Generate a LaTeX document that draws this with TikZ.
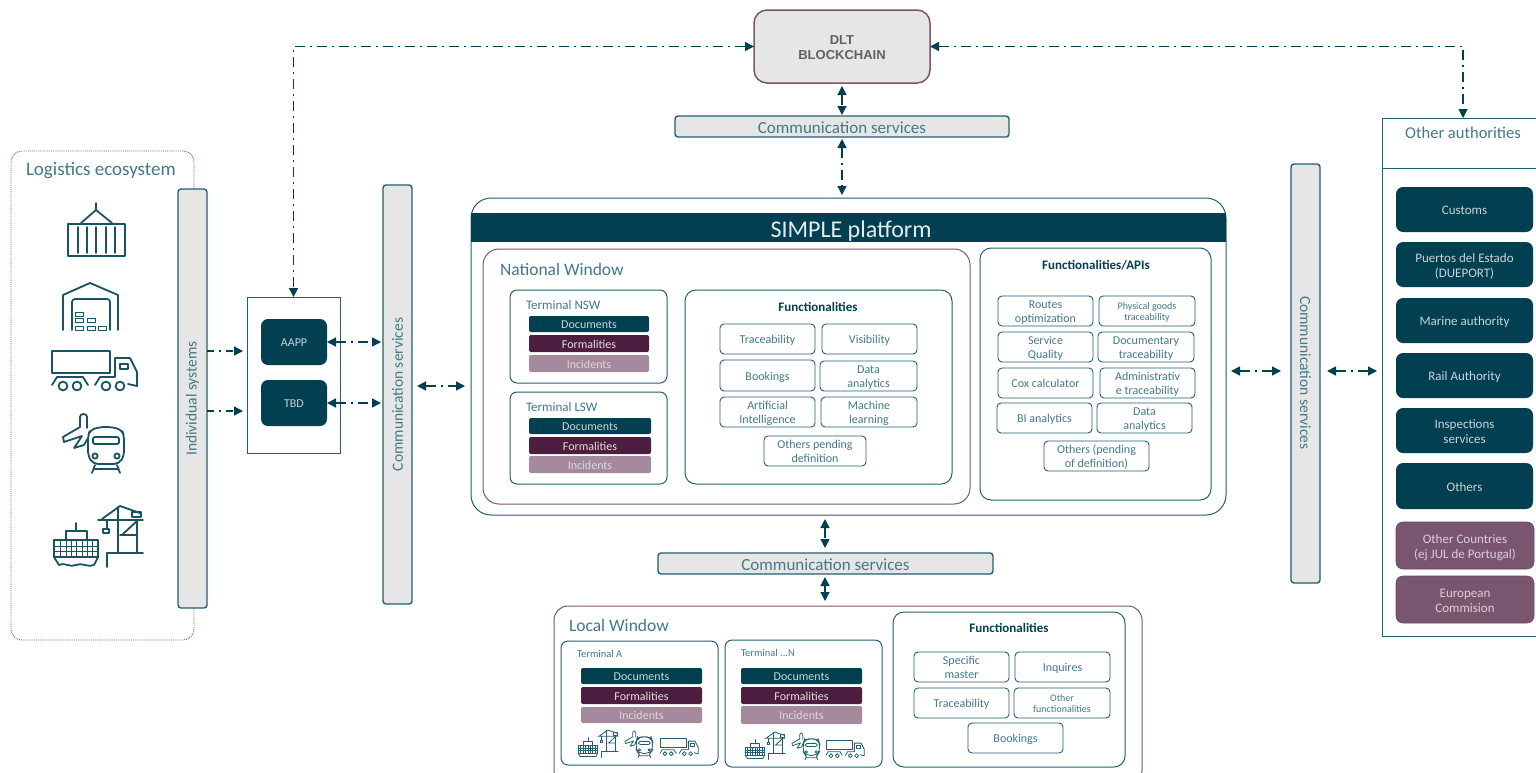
\documentclass[tikz,border=0pt]{standalone}
\usepackage{fontspec}
\setmainfont{Carlito}
\newfontfamily\dltfont{Liberation Sans}
\usetikzlibrary{arrows.meta}
\definecolor{tealdark}{HTML}{023F50}
\definecolor{tealline}{HTML}{22606F}
\definecolor{tealtext}{HTML}{437988}
\definecolor{plum}{HTML}{4E1E40}
\definecolor{mauve}{HTML}{A58A9E}
\definecolor{plumbox}{HTML}{7A5570}
\definecolor{plumline}{HTML}{7A5570}
\definecolor{greybar}{HTML}{E6E6E6}
\definecolor{onlight}{HTML}{C8D6DA}
\newcommand\fs[1]{\fontsize{#1}{\dimexpr #1pt*115/100\relax}\selectfont}
\newcommand\bx[7]{%
  \pgfmathsetmacro\bxcx{(#3+#5)/2}\pgfmathsetmacro\bxcy{(#4+#6)/2}%
  \pgfmathsetmacro\bxw{#5-#3}\pgfmathsetmacro\bxh{#6-#4}%
  \node[#2,minimum width=\bxw pt,minimum height=\bxh pt] (#1) at (\bxcx,\bxcy) {\raisebox{-.17em}[\height][\depth]{\begin{tabular}{@{}c@{}}#7\end{tabular}}};}
\newcommand\bxe[6]{%
  \pgfmathsetmacro\bxcx{(#3+#5)/2}\pgfmathsetmacro\bxcy{(#4+#6)/2}%
  \pgfmathsetmacro\bxw{#5-#3}\pgfmathsetmacro\bxh{#6-#4}%
  \node[#2,minimum width=\bxw pt,minimum height=\bxh pt] (#1) at (\bxcx,\bxcy) {};}
\tikzset{
  base/.style={inner sep=0pt,outer sep=0pt},
  frame/.style={base,draw=tealline,line width=1pt,rounded corners=11pt},
  plumframe/.style={frame,draw=plumline},
  fnbox/.style={base,draw=tealline,line width=.9pt,rounded corners=4pt,text=tealtext,font=\fs{12}},
  fnsmall/.style={fnbox,font=\fs{10}},
  bar/.style={base,draw=tealline,line width=1.4pt,fill=greybar,rounded corners=3pt,text=tealtext,font=\fs{17}},
  vbar/.style={bar,font=\fs{15.5}},
  docbar/.style={base,fill=tealdark,rounded corners=2pt,text=onlight,font=\fs{12}},
  forbar/.style={base,fill=plum,rounded corners=2pt,text=white!85!plum,font=\fs{12}},
  incbar/.style={base,fill=mauve,rounded corners=2pt,text=white!65!mauve,font=\fs{12}},
  auth/.style={base,fill=tealdark,rounded corners=7pt,text=onlight,font=\fs{13}},
  authp/.style={base,fill=plumbox,draw=plumbox!85!black,line width=.6pt,rounded corners=7pt,text=white!72!plumbox,font=\fs{13}},
  label/.style={base,anchor=west,text=tealtext},
  title/.style={base,text=tealdark,font=\fs{13}\bfseries},
  conn/.style={draw=tealdark,line width=1.4pt,dash pattern=on 10pt off 5pt on 2pt off 5pt,
     {Triangle[length=9pt,width=9pt]}-{Triangle[length=9pt,width=9pt]}},
  connf/.style={draw=tealdark,line width=1.4pt,dash pattern=on 7pt off 5pt on 2pt off 5pt,
     -{Triangle[length=9pt,width=9pt]}},
  icon/.style={draw=tealdark!90!white,line width=1.8pt,line join=round,line cap=round},
  iconmini/.style={draw=tealline,line width=.8pt,line join=round,line cap=round},
}
\newcommand\containericon[1]{%
  \draw[#1] (68,224) rectangle (125,256);
  \foreach \x in {78,87,96,106,115}{\draw[#1] (\x,227) -- (\x,253);}
  \draw[#1] (81,223) -- (96,210) -- (112,223) (96,210) -- (96,203);}
\newcommand\wareicon[1]{%
  \draw[#1] (63,330) -- (63,295) -- (90,283) -- (118,295) -- (118,330);
  \draw[#1] (72,330) -- (72,303) [rounded corners=3pt] -- (72,299) -- (110,299) [sharp corners] -- (110,330);
  \foreach \xa/\ya/\xb/\yb in {75/312/83/316,75/318/83/322,75/326/83/330,87/318/95/322,87/326/95/330,98/326/106/330}
    {\draw[#1,line width=1pt] (\xa,\ya) rectangle (\xb,\yb);}}
\newcommand\truckicon[1]{%
  \draw[#1] (52,351) rectangle (110,373);
  \draw[#1] (115,373) -- (115,358) -- (130,358) -- (137,372) -- (137,386) -- (128,384);
  \draw[#1] (120,364) rectangle (128,369);
  \draw[#1] (52,385) -- (57,377) -- (83,377) -- (88,385);
  \draw[#1] (95,385) -- (100,377) -- (115,377) -- (115,373);
  \foreach \x in {63,77,106,120}{\draw[#1] (\x,386) circle (4.4);}}
\newcommand\mobilityicon[1]{%
  \draw[#1] (80,427) -- (80,417) .. controls (80,413) and (87,413) .. (87,417) -- (87,428);
  \draw[#1] (80,427) -- (63,437) -- (64,442) -- (82,436) -- (74,448) -- (84,445) -- (88,438);
  \draw[#1,rounded corners=5pt] (100,427) -- (90,430) -- (88,436) -- (88,456) -- (93,464) -- (119,464) -- (124,456) -- (124,436) -- (122,430) -- (112,427) -- cycle;
  \draw[#1,rounded corners=2pt] (93,437) rectangle (119,444);
  \draw[#1] (95,456) circle (2.6) (117,456) circle (2.6);
  \draw[#1] (95,465) -- (92,473) (117,465) -- (120,473) (94,469) -- (118,469);}
\newcommand\porticon[1]{%
  \draw[#1] (54,540) rectangle (98,557);
  \draw[#1] (66,531) rectangle (87,540);
  \draw[#1] (76,523) -- (76,531);
  \foreach \x in {60,66,71,76,82,87,92}{\draw[#1,line width=.8pt] (\x,540) -- (\x,557);}
  \draw[#1,line width=.8pt] (54,546) -- (98,546) (54,551) -- (98,551);
  \draw[#1] (54,557) -- (59,565) .. controls (66,562) and (70,568) .. (76,565) .. controls (82,562) and (88,568) .. (94,565) -- (98,557);
  \draw[#1] (98,520) -- (143,520) (102,519) -- (120,506) -- (140,513);
  \draw[#1] (118,507) -- (118,552) (137,520) -- (137,552);
  \draw[#1] (132,512) rectangle (141,517);
  \draw[#1] (122,535) -- (138,520) (120,535) -- (137,535);
  \draw[#1] (107,520) -- (107,529);
  \draw[#1] (103,529) rectangle (109,533);
  \draw[#1] (107,567) -- (107,553) -- (143,553);}
\newcommand\miniset[6]{%
  \begin{scope}[shift={(#1,#2)},scale=.45]\porticon{iconmini}\end{scope}
  \begin{scope}[shift={(#3,#4)},scale=.45]\mobilityicon{iconmini}\end{scope}
  \begin{scope}[shift={(#5,#6)},scale=.45]\truckicon{iconmini}\end{scope}}
\begin{document}
\begin{tikzpicture}[x=1pt,y=-1pt]
\useasboundingbox (0,0) rectangle (1536,772);
\clip (0,0) rectangle (1536,772);
\fill[white] (0,0) rectangle (1536,772);

% Logistics ecosystem
\bxe{logi}{base,draw=plumline,line width=.9pt,densely dotted,rounded corners=11pt}{11}{151}{194}{640}
\node[label,font=\fs{19}] (logit) at (26,171) {Logistics ecosystem};
\containericon{icon}
\wareicon{icon}
\truckicon{icon}
\mobilityicon{icon}
\porticon{icon}
\bx{indiv}{vbar}{178}{189}{207}{608}{\rotatebox{90}{Individual systems}}

% AAPP
\bxe{appbox}{base,draw=tealline,line width=.9pt}{247}{297}{340}{453}
\bx{aapp}{auth,font=\fs{12}}{261}{319}{327}{365}{AAPP}
\bx{tbd}{auth,font=\fs{12}}{261}{380}{327}{426}{TBD}
\bx{commL}{vbar}{383}{185}{412}{604}{\rotatebox{90}{Communication services}}

% DLT
\bx{dlt}{base,draw=plumline,line width=1.5pt,fill=greybar,rounded corners=13pt,text=black!62,font=\fontsize{13}{15}\selectfont\dltfont\bfseries}{754}{10}{930}{83}{DLT\\BLOCKCHAIN}
\bx{commT}{bar}{675}{116}{1009}{137}{Communication services}

% SIMPLE
\bxe{simple}{frame,rounded corners=20pt}{471}{198}{1226}{515}
\bx{simplebar}{base,fill=tealdark,text=white!90!tealdark,font=\fs{24}}{471}{213}{1226}{242}{\hspace*{5pt}SIMPLE platform}
\bxe{national}{plumframe,rounded corners=16pt}{483}{249}{970}{504}
\node[label,font=\fs{17.5}] (nationalt) at (500,269) {National Window};

\bxe{nsw}{frame,rounded corners=7pt}{510}{290}{667}{383}
\node[label,font=\fs{13}] (nswt) at (526,305) {Terminal NSW};
\bx{nswd}{docbar}{529}{316}{649}{332}{Documents}
\bx{nswf}{forbar}{529}{335}{649}{352}{Formalities}
\bx{nswi}{incbar}{529}{355}{649}{372}{Incidents}
\bxe{lsw}{frame,rounded corners=7pt}{510}{392}{667}{484}
\node[label,font=\fs{13}] (lswt) at (526,407) {Terminal LSW};
\bx{lswd}{docbar}{529}{418}{651}{434}{Documents}
\bx{lswf}{forbar}{529}{437}{651}{454}{Formalities}
\bx{lswi}{incbar}{529}{456}{651}{473}{Incidents}

\bxe{fn}{frame}{685}{290}{952}{484}
\node[title] (fnt) at (818,307) {Functionalities};
\bx{f1}{fnbox}{720}{324}{815}{354}{Traceability}
\bx{f2}{fnbox}{822}{324}{917}{354}{Visibility}
\bx{f3}{fnbox}{720}{360}{815}{391}{Bookings}
\bx{f4}{fnbox}{820}{361}{917}{391}{Data\\analytics}
\bx{f5}{fnbox}{720}{397}{815}{427}{Artificial\\Intelligence}
\bx{f6}{fnbox}{821}{397}{917}{427}{Machine\\learning}
\bx{f7}{fnbox}{764}{436}{866}{466}{Others pending\\definition}

\bxe{api}{frame}{980}{248}{1211}{500}
\node[title] (apit) at (1096,265) {Functionalities/APIs};
\bx{a1}{fnbox}{998}{296}{1093}{326}{Routes\\optimization}
\bx{a2}{fnsmall}{1099}{296}{1195}{326}{Physical goods\\traceability}
\bx{a3}{fnbox}{998}{332}{1093}{362}{Service\\Quality}
\bx{a4}{fnbox}{1098}{332}{1194}{362}{Documentary\\traceability}
\bx{a5}{fnbox}{998}{368}{1093}{398}{Cox calculator}
\bx{a6}{fnbox}{1100}{368}{1195}{398}{Administrativ\\e traceability}
\bx{a7}{fnbox}{997}{403}{1092}{433}{BI analytics}
\bx{a8}{fnbox}{1097}{403}{1192}{433}{Data\\analytics}
\bx{a9}{fnbox}{1044}{441}{1149}{471}{Others (pending\\of definition)}

\bx{commR}{vbar}{1291}{164}{1320}{583}{\raisebox{9.6pt}[\height][\depth]{\rotatebox{-90}{Communication services}}}

% Other authorities
\bxe{oa}{base,draw=tealline,line width=.9pt}{1382}{118}{1544}{636}
\draw[draw=tealline,line width=.9pt] (oa.west |- 0,168) -- (oa.east |- 0,168);
\node[base,text=tealtext,font=\fs{16.5}] (oat) at (1463,133) {Other authorities};
\bx{o1}{auth}{1396}{187}{1533}{232}{Customs}
\bx{o2}{auth}{1396}{242}{1533}{287}{Puertos del Estado\\(DUEPORT)}
\bx{o3}{auth}{1396}{298}{1533}{343}{Marine authority}
\bx{o4}{auth}{1396}{353}{1533}{398}{Rail Authority}
\bx{o5}{auth}{1396}{408}{1533}{453}{Inspections\\services}
\bx{o6}{auth}{1396}{463}{1533}{509}{Others}
\bx{o7}{authp}{1396}{522}{1534}{569}{Other Countries\\(ej JUL de Portugal)}
\bx{o8}{authp}{1396}{576}{1534}{623}{European\\Commision}

% Bottom
\bx{commB}{bar}{658}{553}{993}{574}{Communication services}
\bxe{local}{plumframe,rounded corners=14pt}{554}{606}{1142}{784}
\node[label,font=\fs{17.5}] (localt) at (569,625) {Local Window};
\bxe{ta}{frame,rounded corners=7pt}{561}{641}{718}{765}
\node[label,font=\fs{10.5}] (tat) at (577,654) {Terminal A};
\bx{tad}{docbar}{581}{668}{702}{684}{Documents}
\bx{taf}{forbar}{581}{687}{702}{704}{Formalities}
\bx{tai}{incbar}{581}{707}{702}{723}{Incidents}
\miniset{553.7}{502.3}{596.65}{544.7}{636.6}{580}
\bxe{tn}{frame,rounded corners=7pt}{725}{640}{882}{767}
\node[label,font=\fs{10.5}] (tnt) at (741,653) {Terminal ...N};
\bx{tnd}{docbar}{741}{668}{862}{684}{Documents}
\bx{tnf}{forbar}{741}{687}{862}{704}{Formalities}
\bx{tni}{incbar}{741}{706}{862}{724}{Incidents}
\miniset{720.7}{504.3}{763.65}{546.7}{802.6}{582}
\bxe{lf}{frame}{893}{612}{1125}{767}
\node[title] (lft) at (1009,628) {Functionalities};
\bx{l1}{fnbox}{914}{652}{1009}{682}{Specific\\master}
\bx{l2}{fnbox}{1015}{652}{1110}{682}{Inquires}
\bx{l3}{fnbox}{914}{688}{1009}{718}{Traceability}
\bx{l4}{fnsmall}{1014}{688}{1110}{718}{Other\\functionalities}
\bx{l5}{fnbox}{968}{723}{1063}{753}{Bookings}

% Connectors
\coordinate (yi1) at (0,351);
\coordinate (yi2) at (0,411);
\coordinate (ya1) at (0,342);
\coordinate (ya2) at (0,403);
\coordinate (ycl) at (0,386);
\coordinate (ycr) at (0,371);
\coordinate (xb) at (825,0);
\draw[conn] (dlt.west) -| (appbox.north);
\draw[conn] (dlt.east) -| (oa.north);
\draw[conn,shorten <=3pt,shorten >=1pt] (dlt.south) -- (commT.north);
\draw[conn,shorten <=2pt,shorten >=3pt] (commT.south) -- (simple.north -| commT.south);
\draw[connf,shorten >=4pt] (indiv.east |- yi1) -- (appbox.west |- yi1);
\draw[connf,shorten >=4pt] (indiv.east |- yi2) -- (appbox.west |- yi2);
\draw[conn,shorten >=2pt] (aapp.east |- ya1) -- (commL.west |- ya1);
\draw[conn,shorten >=2pt] (tbd.east |- ya2) -- (commL.west |- ya2);
\draw[conn,shorten <=5pt,shorten >=6pt] (commL.east |- ycl) -- (simple.west |- ycl);
\draw[conn,shorten <=5pt,shorten >=10pt] (simple.east |- ycr) -- (commR.west |- ycr);
\draw[conn,shorten <=7pt,shorten >=5pt] (commR.east |- ycr) -- (oa.west |- ycr);
\draw[conn,shorten <=4pt,shorten >=5pt] (simple.south -| xb) -- (commB.north -| xb);
\draw[conn,shorten <=3pt,shorten >=5pt] (commB.south -| xb) -- (local.north -| xb);
\end{tikzpicture}
\end{document}
